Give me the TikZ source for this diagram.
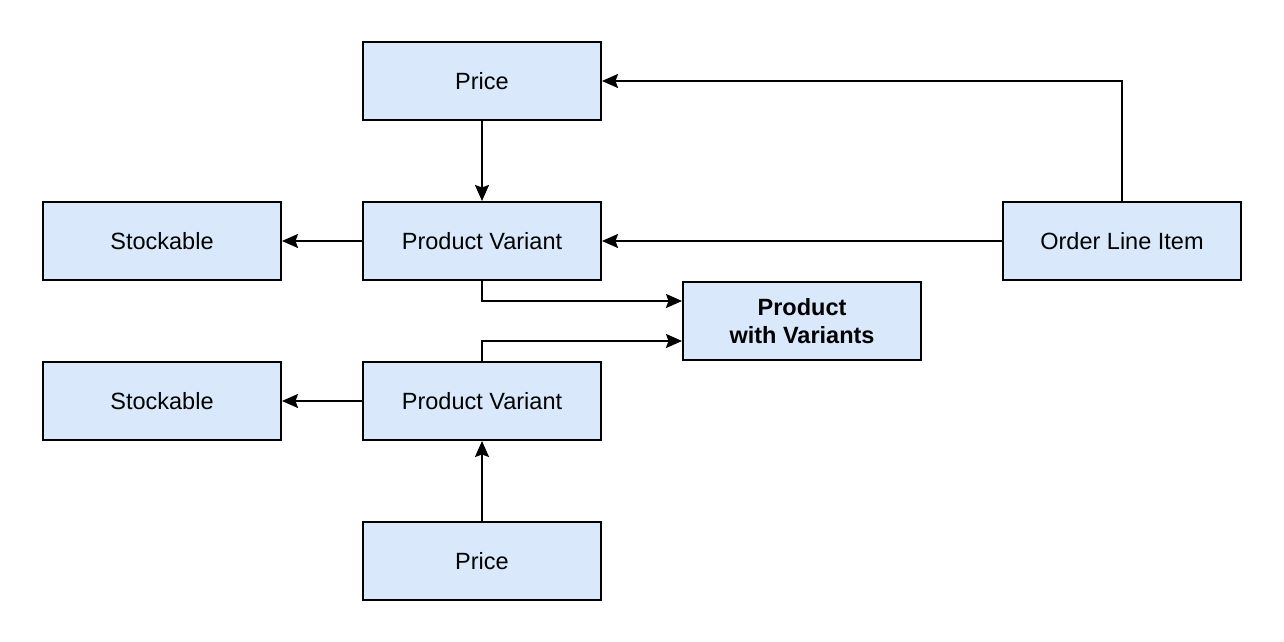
\documentclass[tikz,border=0pt]{standalone}
\usepackage{fontspec}
\setmainfont{Liberation Sans}
\usepackage{tikz}
\usetikzlibrary{arrows.meta}
\definecolor{boxfill}{HTML}{DAE8FC}
\definecolor{ink}{HTML}{000000}
\tikzset{
  entity/.style={draw=ink, fill=boxfill, line width=2pt, minimum width=238pt, minimum height=78pt, inner sep=0pt, font=\fontsize{23.5}{28}\selectfont, align=center},
  main/.style={entity, font=\fontsize{23.5}{28}\selectfont\bfseries},
  link/.style={draw=ink, line width=2pt, -{Stealth[length=16pt,width=14pt,inset=2.5pt]}},
}
\begin{document}
\begin{tikzpicture}[x=1pt,y=1pt]
  \useasboundingbox (0,0) rectangle (1284,642);
  % upper variant
  \node[entity] (priceA) at (482,561) {Price};
  \node[entity] (varA)   at (482,401) {Product Variant};
  \node[entity] (stockA) at (162,401) {Stockable};
  \node[entity] (order)  at (1122,401) {Order Line Item};
  % product
  \node[main] (product) at (802,321) {Product\\with Variants};
  % lower variant
  \node[entity] (stockB) at (162,241) {Stockable};
  \node[entity] (varB)   at (482,241) {Product Variant};
  \node[entity] (priceB) at (482,81) {Price};
  \draw[link] (priceA) -- (varA);
  \draw[link] (varA) -- (stockA);
  \draw[link] (order) -- (varA);
  \draw[link] (order.north) |- (priceA.east);
  \draw[link] (varA.south) |- ([yshift=20pt]product.west);
  \draw[link] (varB.north) |- ([yshift=-20pt]product.west);
  \draw[link] (varB) -- (stockB);
  \draw[link] (priceB) -- (varB);
\end{tikzpicture}
\end{document}
